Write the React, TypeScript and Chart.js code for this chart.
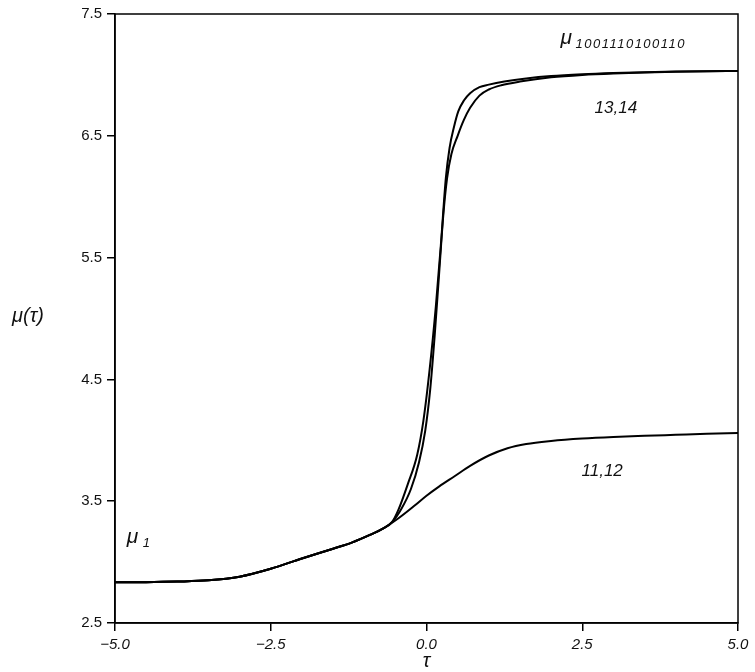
import React, { useEffect, useRef } from 'react';
import { Chart, registerables } from 'chart.js';

Chart.register(...registerables);

const xTicks = [-5, -2.5, 0, 2.5, 5];
const yTicks = [2.5, 3.5, 4.5, 5.5, 6.5, 7.5];

// curve 11,12 (lower plateau)
const tauLow = [-5, -4.5, -4, -3.5, -3, -2.5, -2, -1.5, -1.2, -0.9, -0.7, -0.45, -0.2, 0, 0.2, 0.45, 0.7, 1.0, 1.3, 1.6, 2.0, 2.5, 3.0, 3.5, 4.0, 4.5, 5.0];
const muLow = [2.834, 2.835, 2.84, 2.85, 2.88, 2.945, 3.03, 3.11, 3.16, 3.225, 3.275, 3.36, 3.46, 3.545, 3.62, 3.705, 3.79, 3.875, 3.935, 3.97, 3.995, 4.015, 4.028, 4.037, 4.045, 4.053, 4.06];

// curve 13 (upper plateau, left branch)
const tau13 = [-5, -4.5, -4, -3.5, -3, -2.5, -2, -1.5, -1.2, -0.9, -0.7, -0.55, -0.45, -0.3, -0.15, -0.05, 0.05, 0.15, 0.23, 0.31, 0.37, 0.44, 0.51, 0.6, 0.7, 0.85, 1.0, 1.25, 1.6, 2.0, 2.5, 3.0, 3.5, 4.0, 4.5, 5.0];
const mu13 = [2.834, 2.835, 2.84, 2.85, 2.88, 2.945, 3.03, 3.11, 3.16, 3.225, 3.275, 3.33, 3.43, 3.64, 3.88, 4.16, 4.58, 5.1, 5.6, 6.15, 6.4, 6.57, 6.7, 6.79, 6.85, 6.9, 6.92, 6.945, 6.97, 6.99, 7.005, 7.015, 7.022, 7.027, 7.03, 7.032];

// curve 14 (upper plateau, right branch)
const tau14 = [-5, -4.5, -4, -3.5, -3, -2.5, -2, -1.5, -1.2, -0.9, -0.7, -0.55, -0.4, -0.25, -0.12, -0.02, 0.06, 0.13, 0.2, 0.27, 0.33, 0.4, 0.5, 0.6, 0.7, 0.85, 1.0, 1.2, 1.5, 2.0, 2.5, 3.0, 3.5, 4.0, 4.5, 5.0];
const mu14 = [2.834, 2.835, 2.84, 2.85, 2.88, 2.945, 3.03, 3.11, 3.16, 3.225, 3.275, 3.33, 3.44, 3.6, 3.82, 4.08, 4.42, 4.85, 5.35, 5.85, 6.15, 6.35, 6.5, 6.63, 6.73, 6.83, 6.88, 6.915, 6.945, 6.98, 7.0, 7.012, 7.02, 7.026, 7.03, 7.032];

const pts = (xs: number[], ys: number[]) => xs.map((x, i) => ({ x, y: ys[i] }));
const fmt = (v: number) => (v < 0 ? '\u2212' + Math.abs(v).toFixed(1) : v.toFixed(1));

const FAMILY = '"Liberation Sans", Arial, sans-serif';

export default function App() {
  const ref = useRef<HTMLCanvasElement>(null);

  useEffect(() => {
    if (!ref.current) return;

    const textPlugin = {
      id: 'textPlugin',
      afterDraw(chart: any) {
        const { ctx, chartArea: a, scales } = chart;
        const x = scales.x;
        const y = scales.y;
        ctx.save();
        // frame
        ctx.strokeStyle = '#000';
        ctx.lineWidth = 1.5;
        ctx.strokeRect(a.left, a.top, a.right - a.left, a.bottom - a.top);

        ctx.fillStyle = '#111';
        ctx.textBaseline = 'alphabetic';
        ctx.textAlign = 'left';

        // mu_{1001110100110}
        const mx = x.getPixelForValue(2.15);
        const my = y.getPixelForValue(7.254);
        ctx.font = `italic 21px ${FAMILY}`;
        ctx.fillText('\u03bc', mx, my);
        ctx.font = `italic 13px ${FAMILY}`;
        (ctx as any).letterSpacing = '1.5px';
        ctx.fillText('1001110100110', mx + 15, my + 4);
        (ctx as any).letterSpacing = '0px';

        // mu_1
        const lx = x.getPixelForValue(-4.81);
        const ly = y.getPixelForValue(3.16);
        ctx.font = `italic 21px ${FAMILY}`;
        ctx.fillText('\u03bc', lx, ly);
        ctx.font = `italic 13px ${FAMILY}`;
        ctx.fillText('1', lx + 16, ly + 4);

        // curve labels
        ctx.textAlign = 'center';
        ctx.textBaseline = 'middle';
        ctx.font = `italic 17px ${FAMILY}`;
        ctx.fillText('13,14', x.getPixelForValue(3.04), y.getPixelForValue(6.73));
        ctx.fillText('11,12', x.getPixelForValue(2.82), y.getPixelForValue(3.746));

        // axis titles
        ctx.font = `italic 20px ${FAMILY}`;
        ctx.fillText('\u03bc(\u03c4)', 28, (a.top + a.bottom) / 2 - 2);
        ctx.fillText('\u03c4', (a.left + a.right) / 2, 661);
        ctx.restore();
      },
    };

    const lineStyle = {
      showLine: true,
      pointRadius: 0,
      borderColor: '#000',
      borderWidth: 2,
      fill: false,
      cubicInterpolationMode: 'monotone' as const,
    };

    const chart = new Chart(ref.current, {
      type: 'scatter',
      data: {
        datasets: [
          { label: '11,12', data: pts(tauLow, muLow), ...lineStyle },
          { label: '13', data: pts(tau13, mu13), ...lineStyle },
          { label: '14', data: pts(tau14, mu14), ...lineStyle },
        ],
      },
      options: {
        animation: false,
        responsive: true,
        maintainAspectRatio: false,
        layout: { padding: { top: 13, right: 17, bottom: 0, left: 0 } },
        plugins: {
          legend: { display: false },
          tooltip: { enabled: false },
        },
        events: [],
        scales: {
          x: {
            type: 'linear',
            min: -5,
            max: 5,
            afterBuildTicks: (s: any) => {
              s.ticks = xTicks.map((v) => ({ value: v }));
            },
            afterFit: (s: any) => {
              s.height = 49;
            },
            ticks: {
              callback: (v: any) => fmt(Number(v)),
              font: { family: FAMILY, size: 15, style: 'italic' },
              color: '#111',
              padding: 5,
              maxRotation: 0,
              autoSkip: false,
            },
            grid: {
              drawOnChartArea: false,
              drawTicks: true,
              tickLength: 8,
              color: '#000',
              lineWidth: 1.5,
            },
            border: { display: true, color: '#000', width: 1.5 },
          },
          y: {
            type: 'linear',
            min: 2.5,
            max: 7.5,
            afterBuildTicks: (s: any) => {
              s.ticks = yTicks.map((v) => ({ value: v }));
            },
            afterFit: (s: any) => {
              s.width = 115;
            },
            ticks: {
              callback: (v: any) => fmt(Number(v)),
              font: { family: FAMILY, size: 15 },
              color: '#111',
              padding: 5,
              autoSkip: false,
            },
            grid: {
              drawOnChartArea: false,
              drawTicks: true,
              tickLength: 8,
              color: '#000',
              lineWidth: 1.5,
            },
            border: { display: true, color: '#000', width: 1.5 },
          },
        },
      },
      plugins: [textPlugin],
    });

    return () => chart.destroy();
  }, []);

  return (
    <div style={{ position: 'absolute', left: 0, top: 0, width: 755, height: 672, background: '#fff' }}>
      <canvas ref={ref} />
    </div>
  );
}
